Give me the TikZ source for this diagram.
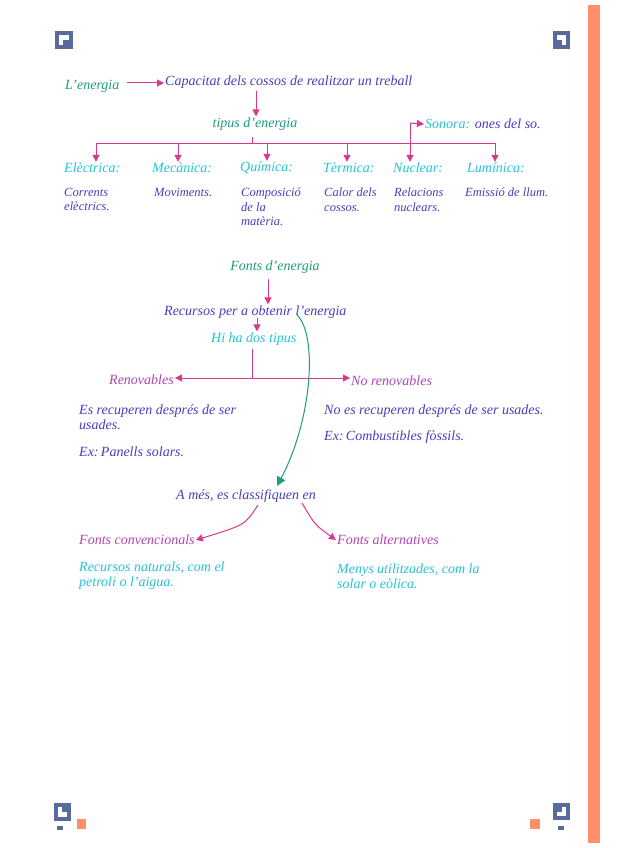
\documentclass[tikz,border=0pt]{standalone}
\usepackage{fontspec}
\setmainfont{Liberation Serif}
\usetikzlibrary{arrows.meta}
\definecolor{teal1}{HTML}{1E9C7C}
\definecolor{mag}{HTML}{D8398F}
\definecolor{purp}{HTML}{4A3CC0}
\definecolor{cyan1}{HTML}{22C4D8}
\definecolor{viol}{HTML}{B045B5}
\definecolor{icon}{HTML}{5A6A9E}
\definecolor{orng}{HTML}{FF8F6A}
\begin{document}
\begin{tikzpicture}[x=1pt,y=-1pt,
 t/.style={inner sep=1pt,font=\itshape\fontsize{14}{15}\selectfont},
 tl/.style={t,anchor=west},
 ar/.style={mag,line width=1pt,-{Triangle[length=7pt,width=7pt]}},
 ln/.style={mag,line width=1pt}]
\useasboundingbox (0,0) rectangle (617,848);
\fill[white] (0,0) rectangle (617,848);
\fill[orng] (588,5) rectangle (600,843);
% icons
\fill[icon] (55,31) rectangle (73,49); \fill[white] (59,35) rectangle (69,40); \fill[white] (59,35) rectangle (63,45);
\fill[icon] (553,31) rectangle (570,49); \fill[white] (557,35) rectangle (566,40); \fill[white] (562,35) rectangle (566,45);
\fill[icon] (54,803) rectangle (71,821); \fill[white] (58,807) rectangle (62,817); \fill[white] (58,812) rectangle (67,817);
\fill[icon] (57,826) rectangle (63,830); \fill[orng] (77,819) rectangle (86,829);
\fill[icon] (553,803) rectangle (570,820); \fill[white] (562,807) rectangle (566,816); \fill[white] (557,812) rectangle (566,816);
\fill[icon] (558,826) rectangle (564,830); \fill[orng] (530,819) rectangle (540,829);
% top
\node[tl,teal1] (en) at (64,86) {L'energia};
\node[tl,purp] (cap) at (164,82) {Capacitat dels cossos de realitzar un treball};
\draw[ar] (en.east)+(6,-3) coordinate (e1) -- (cap.west |- e1);
\node[t,teal1] (tip) at (255,124) {tipus d'energia};
\draw[ar] (256,91) coordinate (c1) -- (tip.north -| c1);
\node[tl,cyan1] (ele) at (63,168) {Elèctrica:};
\node[tl,cyan1] (mec) at (151,168) {Mecànica:};
\node[tl,cyan1] (qui) at (239,168) {Química:};
\node[tl,cyan1] (ter) at (322,168) {Tèrmica:};
\node[tl,cyan1] (nuc) at (392,168) {Nuclear:};
\node[tl,cyan1] (lum) at (466,168) {Lumínica:};
\node[tl,cyan1] (son) at (424,124) {Sonora: \textcolor{purp}{ones del so.}};
\coordinate (b0) at (252,137);
\draw[ln] (b0) -- (252,143);
\draw[ln] (96,143) -- (495,143);
\foreach \xx/\n in {96/ele,178/mec,267/qui,347/ter,495/lum}
  \draw[ar] (\xx,143) -- (\n.north -| \xx,0);
\draw[ar] (410,123) -- (nuc.north -| 410,0);
\draw[ar] (410,123) -- (son.west);
\begin{scope}[every node/.style={tl,purp,align=left,font=\itshape\fontsize{12.5}{14.5}\selectfont}]
\node[anchor=north west] (d1) at (63,187) {Corrents\\elèctrics.};
\node[anchor=north west] (d2) at (153,187) {Moviments.};
\node[anchor=north west] (d3) at (240,187) {Composició\\de la\\matèria.};
\node[anchor=north west] (d4) at (323,187) {Calor dels\\cossos.};
\node[anchor=north west] (d5) at (393,187) {Relacions\\nuclears.};
\node[anchor=north west] (d6) at (464,187) {Emissió de llum.};
\end{scope}
% bottom
\node[t,teal1] (fe) at (275,267) {Fonts d'energia};
\node[tl,purp] (rec) at (163,312) {Recursos per a obtenir l'energia};
\draw[ar] (268,279) coordinate (c2) -- (rec.north -| c2);
\node[tl,cyan1] (hi) at (210,339) {Hi ha dos tipus};
\draw[ar] (257,318) coordinate (c3) -- (hi.north -| c3);
\node[tl,viol] (ren) at (108,380) {Renovables};
\node[tl,viol] (nren) at (350,381) {No renovables};
\draw[ln] (252,349) -- (252,378);
\draw[ar] (252,378) -- (ren.east |- 0,378);
\draw[ar] (252,378) -- (nren.west |- 0,378);
\node[tl,purp,align=left] (rd) at (78,417) {Es recuperen després de ser\\usades.};
\node[tl,purp] (rx) at (78,452) {Ex:\,Panells solars.};
\node[tl,purp] (nd) at (323,411) {No es recuperen després de ser usades.};
\node[tl,purp] (nx) at (323,437) {Ex:\,Combustibles fòssils.};
\node[t,purp] (am) at (246,496) {A més, es classifiquen en};
\draw[teal1,line width=1pt,-{Triangle[length=9pt,width=9pt]}] (297,315) .. controls (318,335) and (312,420) .. (277,486);
\node[tl,viol] (fc) at (78,540) {Fonts convencionals};
\node[tl,viol] (fa) at (336,540) {Fonts alternatives};
\draw[ar] (258,505) .. controls (245,525) .. (fc.east);
\draw[ar] (302,503) .. controls (315,525) .. (fa.west);
\node[tl,cyan1,align=left] (fcd) at (78,576) {Recursos naturals, com el\\petroli o l'aigua.};
\node[tl,cyan1,align=left] (fad) at (336,576) {Menys utilitzades, com la\\solar o eòlica.};
\end{tikzpicture}
\end{document}
